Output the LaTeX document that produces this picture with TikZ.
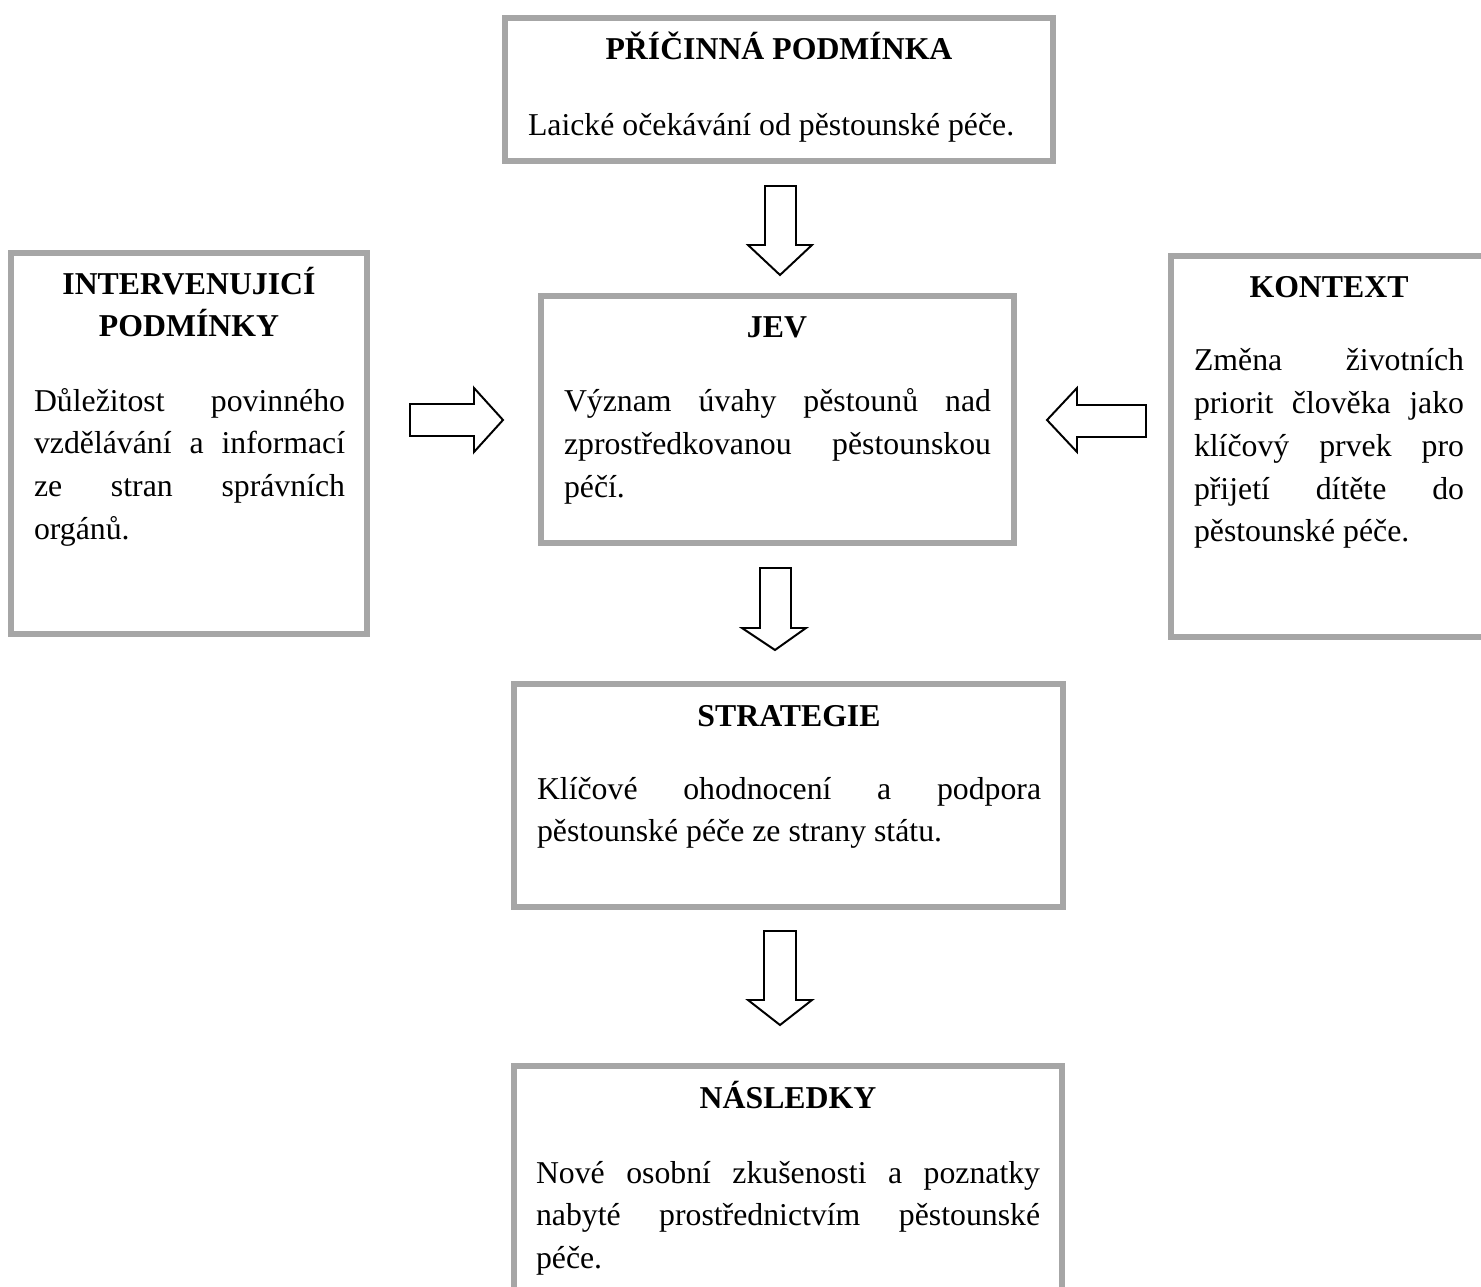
\documentclass[tikz,border=0pt]{standalone}
\usepackage{fontspec}
\setmainfont{Liberation Serif}
\definecolor{boxgray}{HTML}{A6A6A6}
\newcommand\jline[1]{\makebox[\hsize][s]{\spaceskip=0pt\xspaceskip=0pt #1}\\}
\begin{document}
\begin{tikzpicture}[x=0.025cm,y=-0.025cm,
  every node/.style={font=\fontsize{22.6pt}{30.4pt}\selectfont, inner sep=0pt, outer sep=0pt},
  box/.style={draw=boxgray, line width=4.27pt, rectangle},
  ttl/.style={anchor=base, font=\fontsize{22.6pt}{30.4pt}\selectfont\bfseries, align=center},
  body/.style={anchor=base west, align=justify},
  blockarrow/.style={draw=black, fill=white, line width=1.4pt, line join=miter}]
\clip (0,0) rectangle (1481,1287);
% boxes
\node[box, minimum width=13.7cm, minimum height=3.575cm] (b1) at (779,89.5) {};
\node[box, minimum width=8.9cm, minimum height=9.525cm] (b2) at (189,443.5) {};
\node[box, minimum width=11.825cm, minimum height=6.175cm] (b3) at (777.5,419.5) {};
\node[box, minimum width=8.1cm, minimum height=9.525cm] (b4) at (1333,446.5) {};
\node[box, minimum width=13.725cm, minimum height=5.575cm] (b5) at (788.5,795.5) {};
\node[box, minimum width=13.7cm, minimum height=6.1cm] (b6) at (788,1188) {};
% titles
\node[ttl] (t1) at (779,60) {PŘÍČINNÁ PODMÍNKA};
\node[ttl] (t2a) at (189,295) {INTERVENUJICÍ};
\node[ttl] (t2b) at (189,337) {PODMÍNKY};
\node[ttl] (t3) at (777,338) {JEV};
\node[ttl] (t4) at (1329,298) {KONTEXT};
\node[ttl] (t5) at (789,726) {STRATEGIE};
\node[ttl] (t6) at (788,1108) {NÁSLEDKY};
% bodies
\node[anchor=base west] (x1) at (528,136) {Laické očekávání od pěstounské péče.};
\node[body, text width=7.775cm] (x2) at (34,411) {\jline{Důležitost povinného}\jline{vzdělávání a informací}\jline{ze stran správních}orgánů.};
\node[body, text width=10.675cm] (x3) at (564,412) {\jline{Význam úvahy pěstounů nad}\jline{zprostředkovanou pěstounskou}péčí.};
\node[body, text width=6.75cm] (x4) at (1194,371) {\jline{Změna životních}\jline{priorit člověka jako}\jline{klíčový prvek pro}\jline{přijetí dítěte do}pěstounské péče.};
\node[body, text width=12.6cm] (x5) at (537,799) {\jline{Klíčové ohodnocení a podpora}pěstounské péče ze strany státu.};
\node[body, text width=12.6cm] (x6) at (536,1183) {\jline{Nové osobní zkušenosti a poznatky}\jline{nabyté prostřednictvím pěstounské}péče.};
% block arrows
\draw[blockarrow] (765,186) -- (796,186) -- (796,245) -- (812,245) -- (780,275) -- (748,245) -- (765,245) -- cycle;
\draw[blockarrow] (410,404) -- (474,404) -- (474,388) -- (503,420) -- (474,452) -- (474,436) -- (410,436) -- cycle;
\draw[blockarrow] (1146,405) -- (1077,405) -- (1077,388) -- (1047,420) -- (1077,452) -- (1077,437) -- (1146,437) -- cycle;
\draw[blockarrow] (760,568) -- (791,568) -- (791,628) -- (806,628) -- (775,650) -- (742,628) -- (760,628) -- cycle;
\draw[blockarrow] (764,931) -- (796,931) -- (796,1000) -- (812,1000) -- (780,1025) -- (748,1000) -- (764,1000) -- cycle;
\end{tikzpicture}
\end{document}
